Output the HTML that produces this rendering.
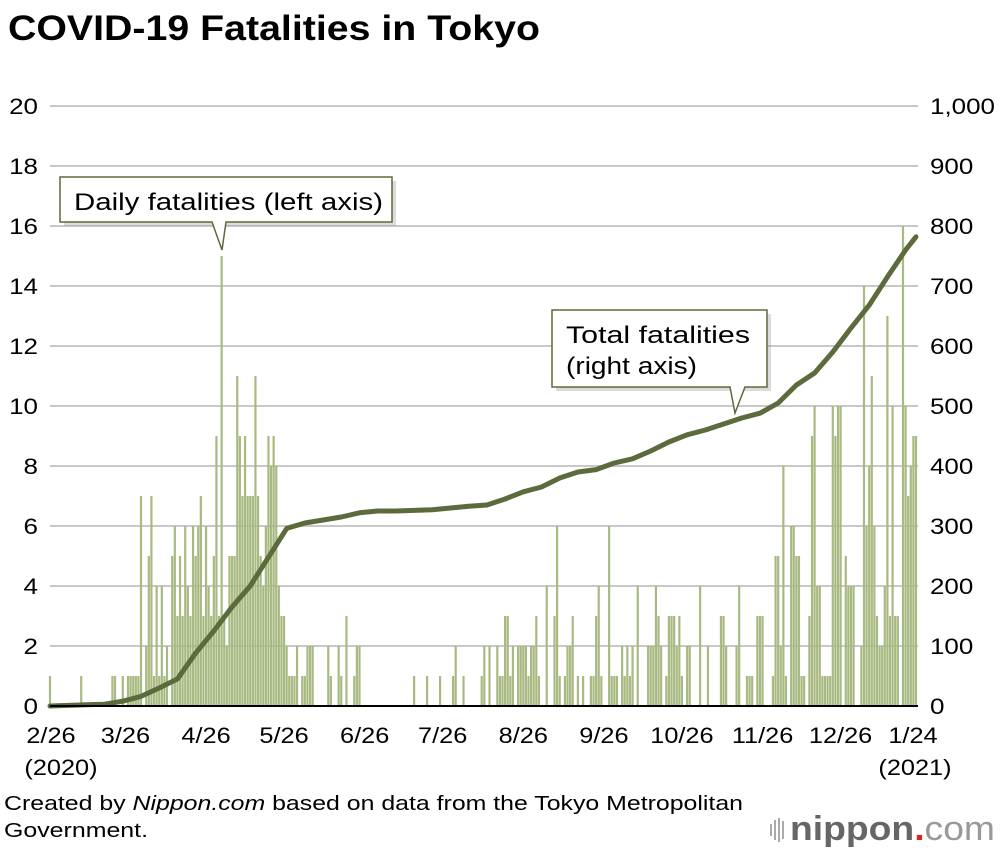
<!DOCTYPE html>
<html><head><meta charset="utf-8">
<style>
body{margin:0;background:#fff;font-family:"Liberation Sans",Arial,sans-serif;}
#wrap{position:relative;width:1000px;height:850px;overflow:hidden;background:#fff}
svg text{font-family:"Liberation Sans",Arial,sans-serif;}
</style></head>
<body>
<div id="wrap">
<svg id="chart" width="1000" height="850">
  <text x="8" y="40" font-size="35" font-weight="bold" fill="#000" textLength="532" lengthAdjust="spacingAndGlyphs">COVID-19 Fatalities in Tokyo</text>
  <g id="grid"></g>
  <g id="bars"></g>
  <g id="line"></g>
  <g id="axes"></g>
  <g>
    <rect x="64" y="181" width="332" height="45" fill="#999" opacity="0.35"/>
    <path d="M60 177 H392 V222 H226 L222 250 L212 222 H60 Z" fill="#fff" stroke="#5b6b3c" stroke-width="1.5"/>
    <text x="74" y="210" font-size="24" fill="#000" textLength="309" lengthAdjust="spacingAndGlyphs">Daily fatalities (left axis)</text>
  </g>
  <g>
    <rect x="556" y="314" width="215" height="77" fill="#999" opacity="0.35"/>
    <path d="M552 310 H767 V387 H745 L735 413 L730 387 H552 Z" fill="#fff" stroke="#5b6b3c" stroke-width="1.5"/>
    <text x="566" y="343" font-size="24" fill="#000" textLength="184" lengthAdjust="spacingAndGlyphs">Total fatalities</text>
    <text x="566" y="374" font-size="24" fill="#000" textLength="131" lengthAdjust="spacingAndGlyphs">(right axis)</text>
  </g>
  <text x="4" y="810" font-size="20" fill="#000" textLength="739" lengthAdjust="spacingAndGlyphs">Created by <tspan font-style="italic">Nippon.com</tspan> based on data from the Tokyo Metropolitan</text>
  <text x="4" y="837" font-size="20" fill="#000" textLength="144" lengthAdjust="spacingAndGlyphs">Government.</text>
  <g>
    <rect x="770" y="824" width="2" height="12" fill="#aaa"/>
    <rect x="774" y="820" width="2" height="20" fill="#aaa"/>
    <rect x="778" y="818" width="2" height="24" fill="#aaa"/>
    <rect x="782" y="821" width="2" height="18" fill="#aaa"/>
    <text x="790" y="840" font-size="34" fill="#666" textLength="205" lengthAdjust="spacingAndGlyphs"><tspan font-weight="bold">nippon</tspan><tspan fill="#d22" font-weight="bold">.</tspan><tspan fill="#999">com</tspan></text>
  </g>
</svg>
</div>
<script>
const daily = [
1,0,0,0,0,0,0,0,0,0, 0,0,1,0,0,0,0,0,0,0, 0,0,0,0,1,1,0,0,1,0,
1,1,1,1,1,7,0,2,5,7, 1,4,1,4,1,2,0,5,6,3, 5,3,6,4,3,6,5,6,7,3,
6,4,3,5,9,3,15,3,2,5, 5,5,11,9,7,9,7,7,7,11, 7,5,4,6,9,8,9,8,4,3,
3,2,1,1,1,2,0,1,1,2,
2,2,0,0,0,0,0,2,1,0, 0,2,1,0,3,0,0,1,2,2, 0,0,0,0,0,0,0,0,0,0,
0,0,0,0,0,0,0,0,0,0, 1,0,0,0,0,1,0,0,0,0, 1,0,0,0,0,1,2,0,0,1,
0,0,0,0,0,0,1,2,0,2, 0,0,2,1,1,3,3,1,2,0, 2,2,2,2,1,2,2,3,1,0,
0,4,0,0,3,6,1,0,1,2, 2,3,0,1,0,1,0,0,1,1, 3,4,1,0,0,6,1,1,1,0,
2,1,2,1,2,0,4,0,0,0, 2,2,2,4,3,2,0,1,3,3, 3,2,3,1,0,2,2,0,0,0,
4,0,0,2,0,0,0,0,3,3, 2,0,0,0,2,4,0,0,1,1, 1,0,3,3,3,0,0,0,1,5,
5,2,8,1,0,6,6,5,5,1, 1,0,3,9,10,4,4,1,1,1, 1,10,9,10,10,0,5,4,4,4,
0,0,2,14,6,8,11,6,3,2, 2,4,13,3,10,3,3,0,16,10, 7,8,9,9];
const totalDays = [0,7,14,21,28,35,42,49,56,63,70,77,84,91,98,105,112,119,126,133,140,147,154,161,168,175,182,189,196,203,210,217,224,231,238,245,252,259,266,273,280,287,294,301,308,315,322,329,333];
const totalVals = [0,1,2,3,8,16,30,45,88,125,165,200,248,296,305,310,315,322,325,325,326,327,330,333,335,345,357,365,380,390,394,405,412,425,440,452,460,470,480,488,505,535,555,590,630,668,715,760,782];
const leftTicks = [0,2,4,6,8,10,12,14,16,18,20];
const rightTicks = ["0","100","200","300","400","500","600","700","800","900","1,000"];
const xTickDays = [0,29,60,90,121,151,182,213,243,274,304,333];
const xTickLabels = ["2/26","3/26","4/26","5/26","6/26","7/26","8/26","9/26","10/26","11/26","12/26","1/24"];

const X0=50, X1=916, Y0=706, Y1=106, NDAYS=333;
const x = d => X0 + d*(X1-X0)/NDAYS;
const yL = v => Y0 - v*(Y0-Y1)/20;
const yR = v => Y0 - v*(Y0-Y1)/1000;
const NS="http://www.w3.org/2000/svg";
function mk(tag, attrs, parent){const e=document.createElementNS(NS,tag);for(const k in attrs)e.setAttribute(k,attrs[k]);parent.appendChild(e);return e;}
function stretch(t,f){const w=t.getComputedTextLength();t.setAttribute('textLength',(w*f).toFixed(1));t.setAttribute('lengthAdjust','spacingAndGlyphs');}

const grid=document.getElementById('grid'), bars=document.getElementById('bars'), line=document.getElementById('line'), axes=document.getElementById('axes');
leftTicks.forEach((t,i)=>{
  const gl=mk('line',{x1:X0,x2:918,y1:yL(t),y2:yL(t),stroke:'#c8c8c8','stroke-width':2},grid);
  
  
  const lt=mk('text',{x:38,y:yL(t)+8,'font-size':22,'text-anchor':'end',fill:'#000'},axes);
  lt.textContent=t;
  
  
  stretch(lt,1.18);
  const rt=mk('text',{x:930,y:yL(t)+8,'font-size':22,fill:'#000'},axes);
  rt.textContent=rightTicks[i];
  
  
  stretch(rt,1.18);
});
daily.forEach((v,d)=>{
  if(v<=0)return;
  const b=mk('rect',{x:x(d)-1.1,y:yL(v),width:2.2,height:Y0-yL(v),fill:'#a8ba82'},bars);
  
  
});
const pts=totalDays.map((d,i)=>x(d).toFixed(1)+','+yR(totalVals[i]).toFixed(1)).join(' ');
const pl=mk('polyline',{points:pts,fill:'none',stroke:'#5b6b3c','stroke-width':5,'stroke-linejoin':'round','stroke-linecap':'round'},line);


const ax=mk('line',{x1:X0,x2:918,y1:Y0,y2:Y0,stroke:'#000','stroke-width':2},axes);


xTickDays.forEach((d,i)=>{
  let cx=x(d); if(i===0)cx=51; if(i===xTickDays.length-1)cx=913;
  const t=mk('text',{x:cx,y:743,'font-size':22,'text-anchor':'middle',fill:'#000'},axes);
  t.textContent=xTickLabels[i];
  
  
  stretch(t,1.15);
});
const y1=mk('text',{x:61,y:775,'font-size':22,'text-anchor':'middle',fill:'#000'},axes);
y1.textContent='(2020)';


stretch(y1,1.15);
const y2=mk('text',{x:915,y:775,'font-size':22,'text-anchor':'middle',fill:'#000'},axes);
y2.textContent='(2021)';


stretch(y2,1.15);
</script>
</body></html>
